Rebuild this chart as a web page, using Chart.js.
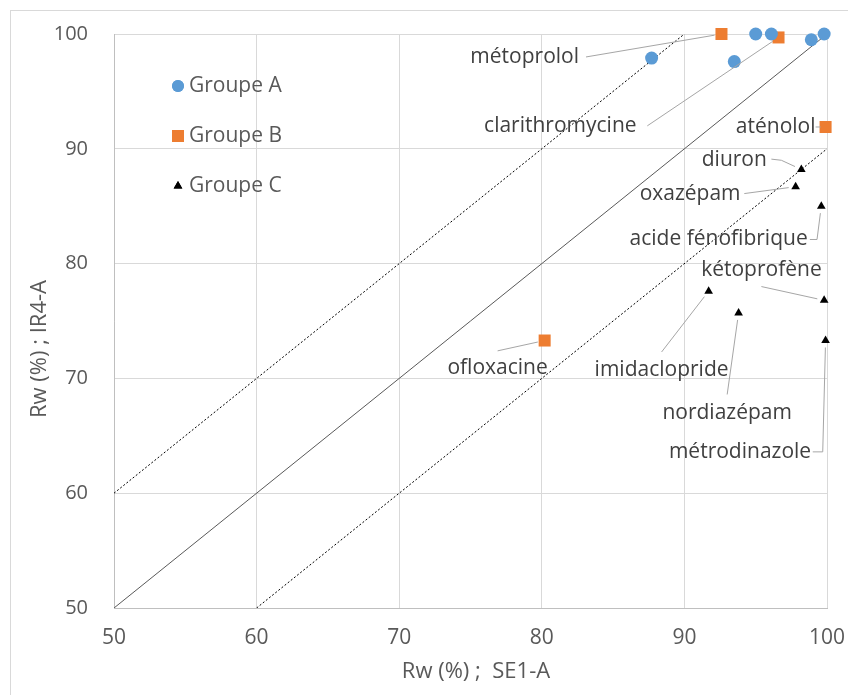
<!DOCTYPE html>
<html>
<head>
<meta charset="utf-8">
<script src="https://cdn.jsdelivr.net/npm/chart.js@4.4.1/dist/chart.umd.min.js"></script>
<style>
  html, body { margin: 0; padding: 0; background: #ffffff; }
  #wrap { position: relative; width: 848px; height: 695px; }
</style>
</head>
<body>
<div id="wrap"><canvas id="rwChart"></canvas></div>
<script>
// Données (Rw SE1-A en x, Rw IR4-A en y)
const groupA_x = [87.7, 93.5, 95.0, 96.1, 98.9, 99.8];
const groupA_y = [97.9, 97.6, 100, 100, 99.5, 100];

const groupB_names = ['métoprolol', 'clarithromycine', 'aténolol', 'ofloxacine'];
const groupB_x = [92.6, 96.6, 99.9, 80.2];
const groupB_y = [100, 99.7, 91.9, 73.3];

const groupC_names = ['diuron', 'oxazépam', 'acide fénofibrique', 'kétoprofène', 'imidaclopride', 'nordiazépam', 'métrodinazole'];
const groupC_x = [98.2, 97.8, 99.6, 99.8, 91.7, 93.8, 99.9];
const groupC_y = [88.2, 86.7, 85.0, 76.8, 77.6, 75.7, 73.3];

// Droites de référence : 1:1 et ±10 %
const line11_x = [50, 100];
const line11_y = [50, 100];
const linePlus_x = [50, 90];
const linePlus_y = [60, 100];
const lineMinus_x = [60, 100];
const lineMinus_y = [50, 90];

const xTicks = [50, 60, 70, 80, 90, 100];
const yTicks = [50, 60, 70, 80, 90, 100];

// Placement des étiquettes (en unités du graphique) : centre du texte, départ du trait, coude éventuel
const labelLayout = {
    'métoprolol':         { text: [78.8, 98.0], from: [83.1, 98.0] },
    'clarithromycine':    { text: [81.3, 92.0], from: [87.4, 92.0] },
    'aténolol':           { text: [96.4, 91.9], from: [99.2, 91.9] },
    'ofloxacine':         { text: [76.9, 70.9], from: [76.9, 72.4] },
    'diuron':             { text: [93.5, 89.0], from: [96.1, 89.1], elbow: [96.8, 89.0] },
    'oxazépam':           { text: [90.4, 86.1], from: [94.2, 86.1] },
    'acide fénofibrique': { text: [92.4, 82.1], from: [98.8, 82.1], elbow: [99.3, 82.1] },
    'kétoprofène':        { text: [95.4, 79.4], from: [95.4, 78.0] },
    'imidaclopride':      { text: [88.4, 70.7], from: [88.4, 72.3] },
    'nordiazépam':        { text: [93.0, 67.0], from: [93.0, 68.6] },
    'métrodinazole':      { text: [93.9, 63.6], from: [99.0, 63.6], elbow: [99.7, 63.6] }
};

const textColor = '#595959';
const labelFont = '"Open Sans", "DejaVu Sans", sans-serif';
const narrowFont = '"Liberation Sans Narrow", "Open Sans", sans-serif';

function toPoints(xs, ys) {
    return xs.map((x, i) => ({ x: x, y: ys[i] }));
}

// Étiquettes avec traits de rappel + légende dans la zone de tracé
const labelPlugin = {
    id: 'labelPlugin',
    beforeDraw(chart) {
        const ctx = chart.ctx;
        ctx.save();
        ctx.fillStyle = '#ffffff';
        ctx.fillRect(0, 0, chart.width, chart.height);
        ctx.strokeStyle = '#d9d9d9';
        ctx.lineWidth = 1;
        ctx.strokeRect(10.5, 10.5, chart.width + 20, chart.height + 20);
        ctx.restore();
    },
    afterDatasetsDraw(chart) {
        const ctx = chart.ctx;
        const xs = chart.scales.x;
        const ys = chart.scales.y;
        ctx.save();

        const drawLabels = (names, px, py) => {
            names.forEach((name, i) => {
                const lay = labelLayout[name];
                if (!lay) return;
                const tx = xs.getPixelForValue(lay.text[0]);
                const ty = ys.getPixelForValue(lay.text[1]);
                const fx = xs.getPixelForValue(lay.from[0]);
                const fy = ys.getPixelForValue(lay.from[1]);
                const ptx = xs.getPixelForValue(px[i]);
                const pty = ys.getPixelForValue(py[i]);

                // trait de rappel, raccourci pour ne pas toucher le marqueur
                let sx = fx, sy = fy;
                if (lay.elbow) {
                    sx = xs.getPixelForValue(lay.elbow[0]);
                    sy = ys.getPixelForValue(lay.elbow[1]);
                }
                const dx = ptx - sx, dy = pty - sy;
                const len = Math.sqrt(dx * dx + dy * dy) || 1;
                const gap = Math.min(7, len * 0.5);
                ctx.beginPath();
                ctx.strokeStyle = '#a6a6a6';
                ctx.lineWidth = 1;
                ctx.moveTo(fx, fy);
                if (lay.elbow) ctx.lineTo(sx, sy);
                ctx.lineTo(ptx - dx / len * gap, pty - dy / len * gap);
                ctx.stroke();

                ctx.fillStyle = '#404040';
                ctx.font = '21px ' + labelFont;
                ctx.textAlign = 'center';
                ctx.textBaseline = 'middle';
                ctx.fillText(name, tx, ty);
            });
        };
        drawLabels(groupB_names, groupB_x, groupB_y);
        drawLabels(groupC_names, groupC_x, groupC_y);

        // légende
        const legendItems = chart.data.datasets.filter(d => d.inLegend);
        legendItems.forEach((ds, i) => {
            const cy = 86 + i * 50;
            ctx.fillStyle = ds.backgroundColor;
            ctx.beginPath();
            Chart.helpers.drawPoint(ctx, {
                pointStyle: ds.pointStyle,
                radius: ds.legendRadius,
                borderWidth: 0
            }, 178, cy);
            ctx.fill();
            ctx.fillStyle = textColor;
            ctx.font = '21px ' + labelFont;
            ctx.textAlign = 'left';
            ctx.textBaseline = 'middle';
            ctx.fillText(ds.label, 189, cy);
        });

        // titre de l'axe horizontal
        ctx.fillStyle = textColor;
        ctx.font = '22px ' + labelFont;
        ctx.textAlign = 'center';
        ctx.textBaseline = 'middle';
        ctx.fillText('Rw (%) ;  SE1-A', 476, 672);

        // titre de l'axe vertical
        ctx.translate(40, 349);
        ctx.rotate(-Math.PI / 2);
        ctx.font = '22px ' + narrowFont;
        ctx.fillText('Rw (%) ; IR4-A', 0, 0);
        ctx.restore();
    }
};

const ctx = document.getElementById('rwChart').getContext('2d');
const rwChart = new Chart(ctx, {
    type: 'scatter',
    data: {
        datasets: [
            {
                label: 'Groupe A',
                inLegend: true,
                data: toPoints(groupA_x, groupA_y),
                pointStyle: 'circle',
                pointRadius: 6.5,
                legendRadius: 6,
                backgroundColor: '#5b9bd5',
                borderWidth: 0,
                clip: false,
                order: 1
            },
            {
                label: 'Groupe B',
                inLegend: true,
                data: toPoints(groupB_x, groupB_y),
                pointStyle: 'rect',
                pointRadius: 8.5,
                legendRadius: 8.5,
                backgroundColor: '#ed7d31',
                borderWidth: 0,
                clip: false,
                order: 1
            },
            {
                label: 'Groupe C',
                inLegend: true,
                data: toPoints(groupC_x, groupC_y),
                pointStyle: 'triangle',
                pointRadius: 5,
                legendRadius: 5,
                backgroundColor: '#000000',
                borderWidth: 0,
                clip: false,
                order: 1
            },
            {
                label: '1:1',
                data: toPoints(line11_x, line11_y),
                showLine: true,
                borderColor: '#595959',
                borderWidth: 1,
                pointRadius: 0,
                order: 2
            },
            {
                label: '+10',
                data: toPoints(linePlus_x, linePlus_y),
                showLine: true,
                borderColor: '#000000',
                borderWidth: 1,
                borderDash: [2, 2],
                pointRadius: 0,
                order: 2
            },
            {
                label: '-10',
                data: toPoints(lineMinus_x, lineMinus_y),
                showLine: true,
                borderColor: '#000000',
                borderWidth: 1,
                borderDash: [2, 2],
                pointRadius: 0,
                order: 2
            }
        ]
    },
    options: {
        responsive: true,
        maintainAspectRatio: false,
        animation: false,
        layout: {
            padding: { top: 34, right: 21, bottom: 0, left: 0 }
        },
        plugins: {
            legend: { display: false },
            tooltip: { enabled: false }
        },
        scales: {
            x: {
                type: 'linear',
                min: 50,
                max: 100,
                afterBuildTicks: (scale) => { scale.ticks = xTicks.map(v => ({ value: v })); },
                afterFit: (scale) => {
                    scale.height = 87;
                    scale.paddingLeft = 0;
                    scale.paddingRight = 0;
                },
                ticks: {
                    color: textColor,
                    padding: 17,
                    font: { family: labelFont, size: 21 }
                },
                grid: { color: '#d9d9d9', drawTicks: false },
                border: { color: '#bfbfbf' }
            },
            y: {
                type: 'linear',
                min: 50,
                max: 100,
                afterBuildTicks: (scale) => { scale.ticks = yTicks.map(v => ({ value: v })); },
                afterFit: (scale) => {
                    scale.width = 114;
                    scale.paddingTop = 0;
                    scale.paddingBottom = 0;
                },
                ticks: {
                    color: textColor,
                    padding: 26,
                    font: { family: labelFont, size: 20 }
                },
                grid: { color: '#d9d9d9', drawTicks: false },
                border: { color: '#bfbfbf' }
            }
        }
    },
    plugins: [labelPlugin]
});
</script>
</body>
</html>
